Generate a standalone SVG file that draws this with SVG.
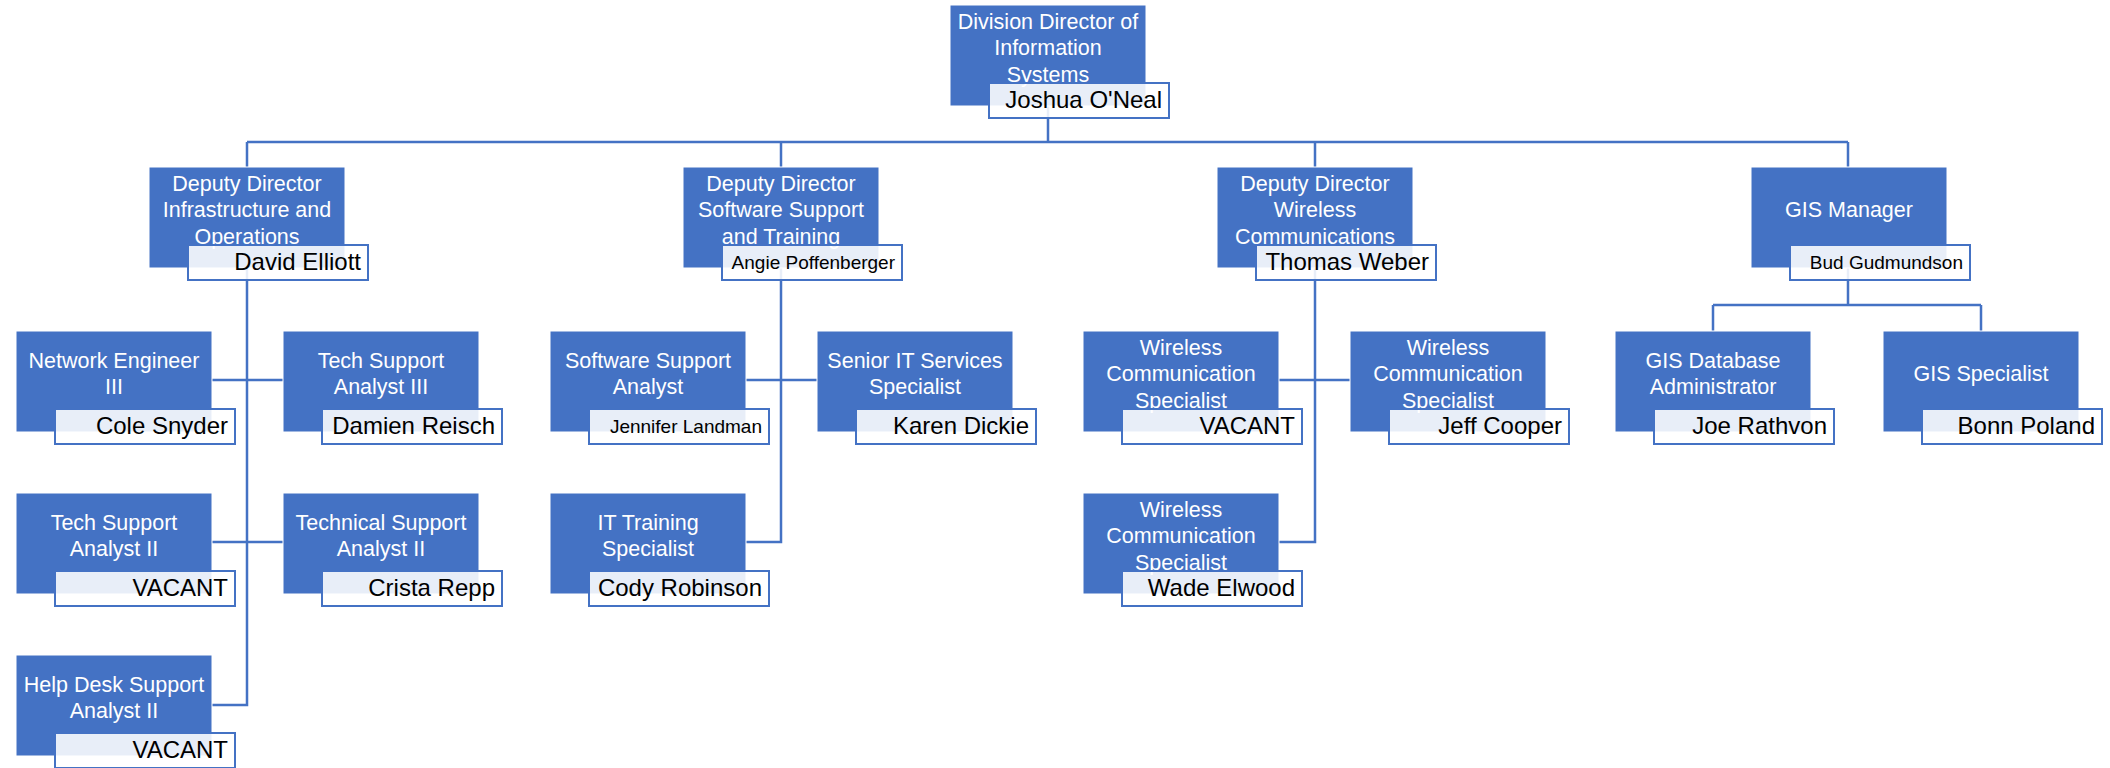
<svg xmlns="http://www.w3.org/2000/svg" width="2110" height="768" viewBox="0 0 2110 768">
<style>
.bg{fill:#ffffff}
.box{fill:#4472c4;stroke:#ffffff;stroke-width:1}
.nb{fill:#ffffff;fill-opacity:0.88;stroke:#4472c4;stroke-width:2}
.t{font-family:"Liberation Sans",Arial,sans-serif;font-size:21.5px;fill:#ffffff;text-anchor:middle}
.n{font-family:"Liberation Sans",Arial,sans-serif;font-size:24px;fill:#000000;text-anchor:end}
.ns{font-size:19px}
.c{fill:none;stroke:#4472c4;stroke-width:2.5}
</style>
<rect class="bg" x="0" y="0" width="2110" height="768"/>
<g id="connectors">
<path class="c" d="M1048 106V142M247 142H1848M247 142V167M781 142V167M1315 142V167M1848 142V167"/>
<path class="c" d="M247 268V705H212M212 380H283M212 542H283"/>
<path class="c" d="M781 268V542H746M746 380H817"/>
<path class="c" d="M1315 268V542H1279M1279 380H1350"/>
<path class="c" d="M1848 268V305M1713 305H1981M1713 305V331M1981 305V331"/>
</g>
<g id="n-director" transform="translate(950,5)">
<rect class="box" width="196" height="101"/>
<text class="t"><tspan x="98" y="23.5">Division Director of</tspan><tspan x="98" y="50">Information</tspan><tspan x="98" y="76.5">Systems</tspan></text>
<rect class="nb" x="39" y="78" width="180" height="35"/>
<text class="n" x="212" y="103">Joshua O'Neal</text>
</g>
<g id="n-infra" transform="translate(149,167)">
<rect class="box" width="196" height="101"/>
<text class="t"><tspan x="98" y="23.5">Deputy Director</tspan><tspan x="98" y="50">Infrastructure and</tspan><tspan x="98" y="76.5">Operations</tspan></text>
<rect class="nb" x="39" y="78" width="180" height="35"/>
<text class="n" x="212" y="103">David Elliott</text>
</g>
<g id="n-software" transform="translate(683,167)">
<rect class="box" width="196" height="101"/>
<text class="t"><tspan x="98" y="23.5">Deputy Director</tspan><tspan x="98" y="50">Software Support</tspan><tspan x="98" y="76.5">and Training</tspan></text>
<rect class="nb" x="39" y="78" width="180" height="35"/>
<text class="n ns" x="212" y="102">Angie Poffenberger</text>
</g>
<g id="n-wireless" transform="translate(1217,167)">
<rect class="box" width="196" height="101"/>
<text class="t"><tspan x="98" y="23.5">Deputy Director</tspan><tspan x="98" y="50">Wireless</tspan><tspan x="98" y="76.5">Communications</tspan></text>
<rect class="nb" x="39" y="78" width="180" height="35"/>
<text class="n" x="212" y="103">Thomas Weber</text>
</g>
<g id="n-gis" transform="translate(1751,167)">
<rect class="box" width="196" height="101"/>
<text class="t"><tspan x="98" y="50">GIS Manager</tspan></text>
<rect class="nb" x="39" y="78" width="180" height="35"/>
<text class="n ns" x="212" y="102">Bud Gudmundson</text>
</g>
<g id="n-network-engineer" transform="translate(16,331)">
<rect class="box" width="196" height="101"/>
<text class="t"><tspan x="98" y="36.75">Network Engineer</tspan><tspan x="98" y="63.25">III</tspan></text>
<rect class="nb" x="39" y="78" width="180" height="35"/>
<text class="n" x="212" y="103">Cole Snyder</text>
</g>
<g id="n-tech-support-3" transform="translate(283,331)">
<rect class="box" width="196" height="101"/>
<text class="t"><tspan x="98" y="36.75">Tech Support</tspan><tspan x="98" y="63.25">Analyst III</tspan></text>
<rect class="nb" x="39" y="78" width="180" height="35"/>
<text class="n" x="212" y="103">Damien Reisch</text>
</g>
<g id="n-tech-support-2" transform="translate(16,493)">
<rect class="box" width="196" height="101"/>
<text class="t"><tspan x="98" y="36.75">Tech Support</tspan><tspan x="98" y="63.25">Analyst II</tspan></text>
<rect class="nb" x="39" y="78" width="180" height="35"/>
<text class="n" x="212" y="103">VACANT</text>
</g>
<g id="n-technical-support-2" transform="translate(283,493)">
<rect class="box" width="196" height="101"/>
<text class="t"><tspan x="98" y="36.75">Technical Support</tspan><tspan x="98" y="63.25">Analyst II</tspan></text>
<rect class="nb" x="39" y="78" width="180" height="35"/>
<text class="n" x="212" y="103">Crista Repp</text>
</g>
<g id="n-helpdesk" transform="translate(16,655)">
<rect class="box" width="196" height="101"/>
<text class="t"><tspan x="98" y="36.75">Help Desk Support</tspan><tspan x="98" y="63.25">Analyst II</tspan></text>
<rect class="nb" x="39" y="78" width="180" height="35"/>
<text class="n" x="212" y="103">VACANT</text>
</g>
<g id="n-software-support" transform="translate(550,331)">
<rect class="box" width="196" height="101"/>
<text class="t"><tspan x="98" y="36.75">Software Support</tspan><tspan x="98" y="63.25">Analyst</tspan></text>
<rect class="nb" x="39" y="78" width="180" height="35"/>
<text class="n ns" x="212" y="102">Jennifer Landman</text>
</g>
<g id="n-senior-it" transform="translate(817,331)">
<rect class="box" width="196" height="101"/>
<text class="t"><tspan x="98" y="36.75">Senior IT Services</tspan><tspan x="98" y="63.25">Specialist</tspan></text>
<rect class="nb" x="39" y="78" width="180" height="35"/>
<text class="n" x="212" y="103">Karen Dickie</text>
</g>
<g id="n-it-training" transform="translate(550,493)">
<rect class="box" width="196" height="101"/>
<text class="t"><tspan x="98" y="36.75">IT Training</tspan><tspan x="98" y="63.25">Specialist</tspan></text>
<rect class="nb" x="39" y="78" width="180" height="35"/>
<text class="n" x="212" y="103">Cody Robinson</text>
</g>
<g id="n-wireless-1" transform="translate(1083,331)">
<rect class="box" width="196" height="101"/>
<text class="t"><tspan x="98" y="23.5">Wireless</tspan><tspan x="98" y="50">Communication</tspan><tspan x="98" y="76.5">Specialist</tspan></text>
<rect class="nb" x="39" y="78" width="180" height="35"/>
<text class="n" x="212" y="103">VACANT</text>
</g>
<g id="n-wireless-2" transform="translate(1350,331)">
<rect class="box" width="196" height="101"/>
<text class="t"><tspan x="98" y="23.5">Wireless</tspan><tspan x="98" y="50">Communication</tspan><tspan x="98" y="76.5">Specialist</tspan></text>
<rect class="nb" x="39" y="78" width="180" height="35"/>
<text class="n" x="212" y="103">Jeff Cooper</text>
</g>
<g id="n-wireless-3" transform="translate(1083,493)">
<rect class="box" width="196" height="101"/>
<text class="t"><tspan x="98" y="23.5">Wireless</tspan><tspan x="98" y="50">Communication</tspan><tspan x="98" y="76.5">Specialist</tspan></text>
<rect class="nb" x="39" y="78" width="180" height="35"/>
<text class="n" x="212" y="103">Wade Elwood</text>
</g>
<g id="n-gis-db" transform="translate(1615,331)">
<rect class="box" width="196" height="101"/>
<text class="t"><tspan x="98" y="36.75">GIS Database</tspan><tspan x="98" y="63.25">Administrator</tspan></text>
<rect class="nb" x="39" y="78" width="180" height="35"/>
<text class="n" x="212" y="103">Joe Rathvon</text>
</g>
<g id="n-gis-specialist" transform="translate(1883,331)">
<rect class="box" width="196" height="101"/>
<text class="t"><tspan x="98" y="50">GIS Specialist</tspan></text>
<rect class="nb" x="39" y="78" width="180" height="35"/>
<text class="n" x="212" y="103">Bonn Poland</text>
</g>
</svg>
